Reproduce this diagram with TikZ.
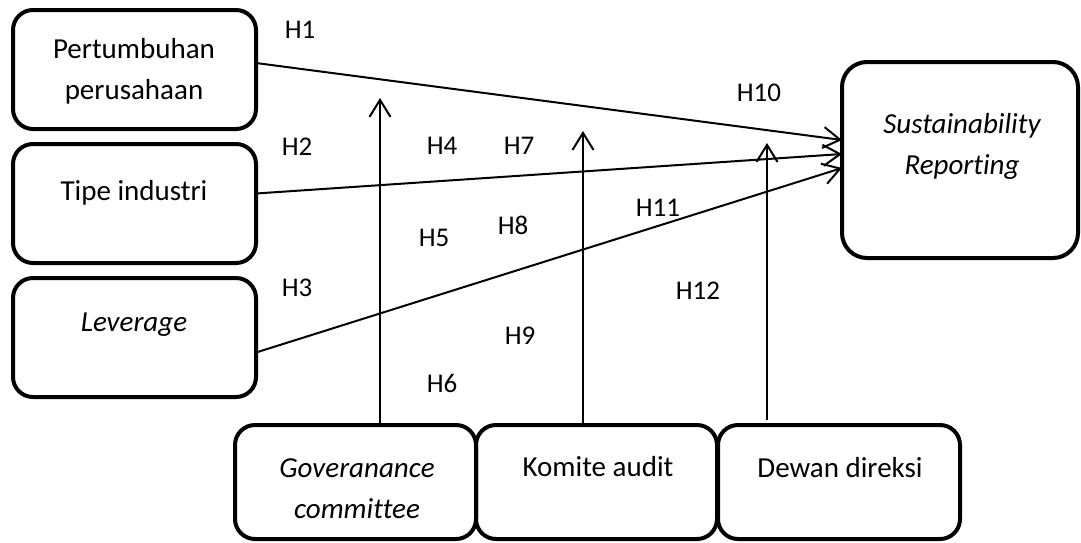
\documentclass[tikz,border=0pt]{standalone}
\usepackage{fontspec}
\setmainfont[Ligatures={NoCommon}]{Carlito}
\usetikzlibrary{positioning,arrows.meta}
\tikzset{vbox/.style={draw, line width=4pt, rounded corners=20pt, outer sep=0pt, inner sep=0pt, minimum width=243pt, minimum height=119pt}}
\tikzset{vtext/.style={inner sep=0pt, align=center, font=\fontsize{29}{41}\selectfont}}
\tikzset{hlab/.style={inner sep=0pt, font=\fontsize{27}{32}\selectfont}}
\tikzset{arr/.style={draw, line width=2pt, -{Straight Barb[length=17pt,width=21pt,line width=2pt]}}}

\begin{document}
\begin{tikzpicture}[x=1pt, y=-1pt]
	\useasboundingbox (0,0) rectangle (1081,542);
	% independent variables
	\node[vbox] (pp) at (134.5,69.5) {};
	\node[vbox, below=15pt of pp] (ti) {};
	\node[vbox, below=15pt of ti] (lev) {};
	\node[vtext] (pp-t) at (134,71) {Pertumbuhan\\perusahaan};
	\node[vtext] (ti-t) at (134,193) {Tipe industri};
	\node[vtext] (lev-t) at (134,325) {\itshape Leverage};
	% dependent variable
	\node[vbox, rounded corners=25pt, minimum width=236pt, minimum height=196pt] (sr) at (960,160) {};
	\node[vtext] (sr-t) at (962,146) {\itshape Sustainability\\\itshape Reporting};
	% moderating variables
	\node[vbox, minimum width=241pt, minimum height=114pt] (gc) at (355.5,482) {};
	\node[vbox, minimum width=241pt, minimum height=114pt, right=0pt of gc] (ka) {};
	\node[vbox, minimum width=242pt, minimum height=114pt, right=1pt of ka] (dd) {};
	\node[vtext] (gc-t) at (357,489) {\itshape Goveranance\\\itshape committee};
	\node[vtext] (ka-t) at (598,467) {Komite audit};
	\node[vtext] (dd-t) at (840,468) {Dewan direksi};
	% direct effects
	\draw[arr] ([yshift=6.5pt]pp.east) -- ([yshift=20pt]sr.west);
	\draw[arr] ([yshift=10pt]ti.east) -- ([yshift=6pt]sr.west);
	\draw[arr] ([yshift=-15pt]lev.east) -- ([yshift=-8pt]sr.west);
	% moderation
	\coordinate (gc-tip) at (380,98);
	\coordinate (ka-tip) at (583,131);
	\coordinate (dd-tip) at (767,143);
	\draw[arr] (gc-tip |- gc.north) -- (gc-tip);
	\draw[arr] (ka-tip |- ka.north) -- (ka-tip);
	\draw[arr] ([yshift=5pt]dd-tip |- dd.north) -- (dd-tip);
	% hypotheses
	\foreach \n/\x/\y in {1/300/30, 2/297/147, 3/297/288, 4/442/146, 5/434/238, 6/442/383,
		7/519/146, 8/513/225, 9/520/336, 10/759/93, 11/658/208, 12/698/291}
		\node[hlab] (h\n) at (\x,\y) {H\n};
\end{tikzpicture}
\end{document}
